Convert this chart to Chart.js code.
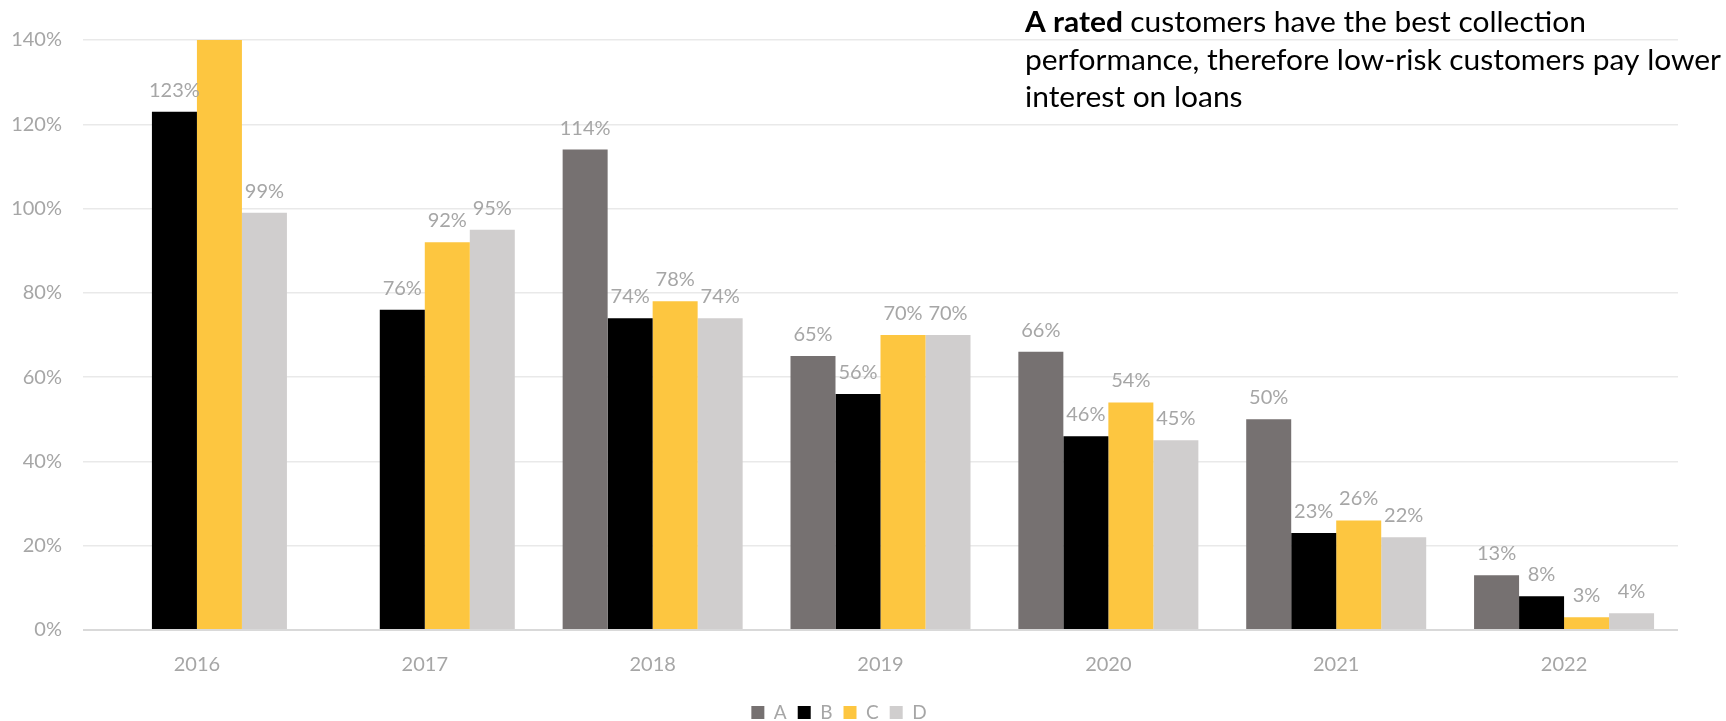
<!DOCTYPE html>
<html>
<head>
<meta charset="utf-8">
<script src="https://cdn.jsdelivr.net/npm/chart.js@4"></script>
<style>
  html, body { margin: 0; padding: 0; background: #fff; }
  #wrap { width: 1726px; height: 721px; position: relative; }
</style>
</head>
<body>
<div id="wrap"><canvas id="chart"></canvas></div>
<script>
const years   = ["2016", "2017", "2018", "2019", "2020", "2021", "2022"];
const seriesA = [null, null, 114, 65, 66, 50, 13];
const seriesB = [123, 76, 74, 56, 46, 23, 8];
const seriesC = [145, 92, 78, 70, 54, 26, 3];
const seriesD = [99, 95, 74, 70, 45, 22, 4];
const yTicks  = [0, 20, 40, 60, 80, 100, 120, 140];

const GREY_TXT = "#a6a6a6";
const COLORS = { A: "#767171", B: "#000000", C: "#fdc640", D: "#d0cece" };

// value labels above each bar (hidden when the bar runs past the axis max)
const barLabels = {
  id: "barLabels",
  afterDatasetsDraw(chart) {
    const ctx = chart.ctx;
    const max = chart.scales.y.max;
    ctx.save();
    ctx.font = "20px Lato";
    ctx.fillStyle = GREY_TXT;
    ctx.textAlign = "center";
    ctx.textBaseline = "alphabetic";
    chart.data.datasets.forEach((ds, i) => {
      chart.getDatasetMeta(i).data.forEach((bar, j) => {
        const v = ds.data[j];
        if (v == null || v > max) return;
        ctx.fillText(Math.round(v) + "%", bar.x, bar.y - 15);
      });
    });
    ctx.restore();
  },
};

// note in the top right corner
const note = {
  id: "note",
  afterDraw(chart) {
    const ctx = chart.ctx;
    const x0 = 1025, target = 696;
    ctx.save();
    ctx.fillStyle = "#000";
    ctx.textBaseline = "alphabetic";
    ctx.font = "28px Lato";
    const sx = target / ctx.measureText("performance, therefore low-risk customers pay lower").width;
    ctx.translate(x0, 0);
    ctx.scale(sx, 1);
    ctx.font = "bold 28px Lato";
    ctx.fillText("A rated", 0, 32);
    const w = ctx.measureText("A rated ").width;
    ctx.font = "28px Lato";
    ctx.fillText("customers have the best collection", w, 32);
    ctx.fillText("performance, therefore low-risk customers pay lower", 0, 70);
    ctx.fillText("interest on loans", 0, 107);
    ctx.restore();
  },
};

new Chart(document.getElementById("chart"), {
  type: "bar",
  data: {
    labels: years,
    datasets: [
      { label: "A", data: seriesA, backgroundColor: COLORS.A },
      { label: "B", data: seriesB, backgroundColor: COLORS.B },
      { label: "C", data: seriesC, backgroundColor: COLORS.C },
      { label: "D", data: seriesD, backgroundColor: COLORS.D },
    ],
  },
  options: {
    responsive: true,
    maintainAspectRatio: false,
    animation: false,
    datasets: { bar: { barPercentage: 1, categoryPercentage: 0.79, skipNull: false } },
    layout: { padding: { top: 40, right: 48, left: 0, bottom: -11 } },
    plugins: {
      tooltip: { enabled: false },
      legend: {
        position: "bottom",
        labels: {
          boxWidth: 13, boxHeight: 13, padding: 11,
          color: GREY_TXT, font: { family: "Lato", size: 19 },
        },
      },
    },
    scales: {
      x: {
        grid: { display: false },
        border: { display: false },
        ticks: { color: GREY_TXT, font: { family: "Lato", size: 20 }, padding: 15 },
      },
      y: {
        min: 0, max: 140,
        afterBuildTicks: s => { s.ticks = yTicks.map(v => ({ value: v })); },
        afterFit: s => { s.width = 83; },
        grid: {
          drawTicks: false,
          lineWidth: c => (c.tick && c.tick.value === 0 ? 2 : 1.5),
          color: c => (c.tick && c.tick.value === 0 ? "#d9d9d9" : "#e9e9e9"),
        },
        border: { display: false },
        ticks: {
          color: GREY_TXT, font: { family: "Lato", size: 20 }, padding: 21,
          callback: v => v + "%",
        },
      },
    },
  },
  plugins: [barLabels, note],
});
</script>
</body>
</html>
